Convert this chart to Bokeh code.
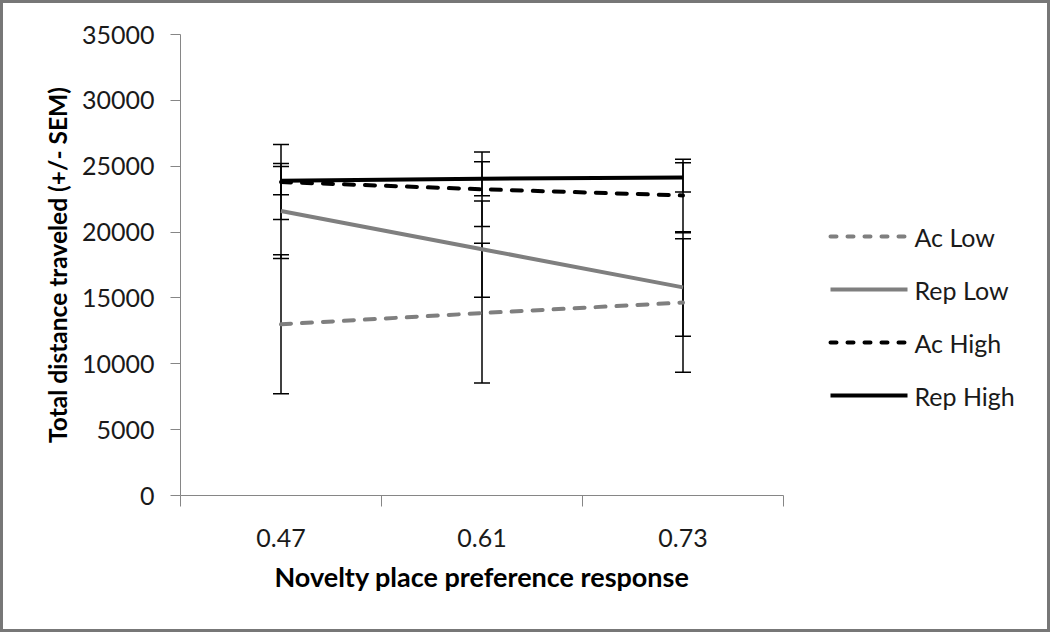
from bokeh.plotting import figure
from bokeh.layouts import row
from bokeh.models import Range1d, FixedTicker, ColumnDataSource, Whisker, TeeHead
from bokeh.core.properties import value
from bokeh.embed import file_html
from bokeh.resources import INLINE

categories = ["0.47", "0.61", "0.73"]
series_names = ["Ac Low", "Rep Low", "Ac High", "Rep High"]
ac_low = [13000, 13850, 14650]
ac_low_err = [5280, 5300, 5300]
rep_low = [21600, 18700, 15800]
rep_low_err = [3600, 3650, 3700]
ac_high = [23800, 23250, 22780]
ac_high_err = [2850, 2820, 2750]
rep_high = [23900, 24050, 24150]
rep_high_err = [1075, 1290, 1115]
y_ticks = [0, 5000, 10000, 15000, 20000, 25000, 30000, 35000]

FONT = "Lato"
GRAY = "#7f7f7f"
BORDER = 3
TOTAL_W, TOTAL_H = 1050, 632
INNER_W, INNER_H = TOTAL_W - 2 * BORDER, TOTAL_H - 2 * BORDER
MAIN_W = 794
LEG_W = INNER_W - MAIN_W
MB_LEFT, MB_RIGHT, MB_TOP, MB_BOTTOM = 177, 14, 31, 134

x_pos = [i + 0.5 for i in range(len(categories))]

p = figure(width=MAIN_W, height=INNER_H, output_backend="svg", toolbar_location=None,
           title=None,
           x_range=Range1d(0, len(categories)), y_range=Range1d(0, 35000),
           min_border_left=MB_LEFT, min_border_right=MB_RIGHT, min_border_top=MB_TOP,
           min_border_bottom=MB_BOTTOM)
p.outline_line_color = None
p.grid.visible = False
p.background_fill_color = "white"
p.border_fill_color = "white"

# x axis
p.xaxis.ticker = FixedTicker(ticks=x_pos, minor_ticks=list(range(len(categories) + 1)))
p.xaxis.major_label_overrides = {x: c for x, c in zip(x_pos, categories)}
p.xaxis.major_tick_out = 0
p.xaxis.major_tick_in = 0
p.xaxis.minor_tick_out = 11
p.xaxis.minor_tick_in = 0
p.xaxis.minor_tick_line_color = "#868686"
p.xaxis.axis_line_color = "#868686"
p.xaxis.major_label_standoff = 22
p.xaxis.major_label_text_font = FONT
p.xaxis.major_label_text_font_size = "25px"
p.xaxis.major_label_text_color = "#1a1a1a"
p.xaxis.axis_label = "Novelty place preference response"
p.xaxis.axis_label_text_font = FONT
p.xaxis.axis_label_text_font_style = "bold"
p.xaxis.axis_label_text_font_size = "27px"
p.xaxis.axis_label_text_color = "black"
p.xaxis.axis_label_standoff = 10

# y axis
p.yaxis.ticker = FixedTicker(ticks=y_ticks)
p.yaxis.minor_tick_line_color = None
p.yaxis.major_tick_out = 10
p.yaxis.major_tick_in = 0
p.yaxis.major_tick_line_color = "#868686"
p.yaxis.axis_line_color = "#868686"
p.yaxis.major_label_standoff = 16
p.yaxis.major_label_text_font = FONT
p.yaxis.major_label_text_font_size = "25px"
p.yaxis.major_label_text_color = "#1a1a1a"
p.yaxis.axis_label = "Total distance traveled (+/- SEM)"
p.yaxis.axis_label_text_font = FONT
p.yaxis.axis_label_text_font_style = "bold"
p.yaxis.axis_label_text_font_size = "24.5px"
p.yaxis.axis_label_text_color = "black"
p.yaxis.axis_label_standoff = 7

vals = [ac_low, rep_low, ac_high, rep_high]
errs = [ac_low_err, rep_low_err, ac_high_err, rep_high_err]
colors = [GRAY, GRAY, "black", "black"]
dashes = ["10 11", "solid", "10 11", "solid"]
leg_dashes = ["6 11", "solid", "6 11", "solid"]

# error bars
for v, e in zip(vals, errs):
    src = ColumnDataSource(dict(x=x_pos, upper=[a + b for a, b in zip(v, e)],
                                lower=[a - b for a, b in zip(v, e)]))
    w = Whisker(base="x", upper="upper", lower="lower", source=src,
                line_color="black", line_width=1.5,
                upper_head=TeeHead(size=16, line_color="black", line_width=1.5),
                lower_head=TeeHead(size=16, line_color="black", line_width=1.5))
    p.add_layout(w)

for name, v, c, d in zip(series_names, vals, colors, dashes):
    p.line(x_pos, v, line_color=c, line_width=4, line_dash=d,
           line_cap="round" if d != "solid" else "butt")

# legend panel: a second figure whose ranges are page pixels.
# Its frame is aligned with the main frame vertically by the row layout.
page_left = BORDER + MAIN_W
frame_top = BORDER + MB_TOP
frame_bottom = BORDER + INNER_H - MB_BOTTOM
pl = figure(width=LEG_W, height=INNER_H, output_backend="svg", toolbar_location=None,
            title=None, x_axis_location=None, y_axis_location=None,
            x_range=Range1d(page_left, page_left + LEG_W),
            y_range=Range1d(frame_bottom, frame_top),
            min_border_left=0, min_border_right=0, min_border_top=MB_TOP,
            min_border_bottom=MB_BOTTOM)
pl.outline_line_color = None
pl.grid.visible = False
pl.background_fill_color = "white"
pl.border_fill_color = "white"

leg_x0 = 830
leg_len = 77
leg_y0 = 236
leg_step = 53
for i, (name, c, d) in enumerate(zip(series_names, colors, leg_dashes)):
    yy = leg_y0 + i * leg_step
    pl.line([leg_x0, leg_x0 + leg_len], [yy, yy], line_color=c, line_width=4,
            line_dash=d, line_cap="round" if d != "solid" else "butt")
    pl.text(x=[leg_x0 + leg_len + 7], y=[yy], text=[name],
            text_font=value(FONT), text_font_size="25px", text_color="#1a1a1a",
            text_baseline="middle", text_align="left")

layout = row(p, pl, spacing=0)
layout.styles = {"border": "3px solid #777777"}

open("out.html", "w").write(file_html(layout, INLINE))
